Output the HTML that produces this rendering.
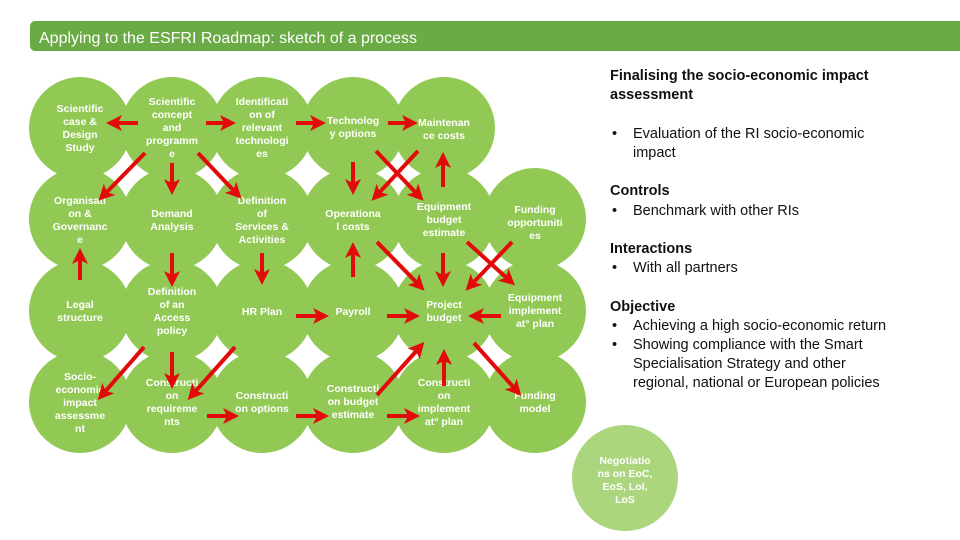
<!DOCTYPE html>
<html><head><meta charset="utf-8"><style>
body{margin:0;width:960px;height:540px;background:#fff;overflow:hidden;font-family:"Liberation Sans",Arial,sans-serif;}
</style></head><body>
<svg width="960" height="540" viewBox="0 0 960 540" xmlns="http://www.w3.org/2000/svg" style="position:absolute;left:0;top:0">
<defs>
<marker id="ah" markerWidth="4" markerHeight="4" refX="2" refY="2" orient="auto" markerUnits="strokeWidth">
<path d="M0,0 L4,2 L0,4 L1,2 z" fill="#e20a0a"/>
</marker>
</defs>
<rect x="30" y="21" width="940" height="30" rx="5" fill="#6aab45"/>
<text x="39" y="43" font-size="16" fill="#fff" font-family="Liberation Sans, sans-serif">Applying to the ESFRI Roadmap: sketch of a process</text>
<g fill="#92c955">
<circle cx="80" cy="128" r="51"/><circle cx="172" cy="128" r="51"/><circle cx="262" cy="128" r="51"/><circle cx="353" cy="128" r="51"/><circle cx="444" cy="128" r="51"/>
<circle cx="80" cy="219" r="51"/><circle cx="172" cy="219" r="51"/><circle cx="262" cy="219" r="51"/><circle cx="353" cy="219" r="51"/><circle cx="444" cy="219" r="51"/><circle cx="535" cy="219" r="51"/>
<circle cx="80" cy="311" r="51"/><circle cx="172" cy="311" r="51"/><circle cx="262" cy="311" r="51"/><circle cx="353" cy="311" r="51"/><circle cx="444" cy="311" r="51"/><circle cx="535" cy="311" r="51"/>
<circle cx="80" cy="402" r="51"/><circle cx="172" cy="402" r="51"/><circle cx="262" cy="402" r="51"/><circle cx="353" cy="402" r="51"/><circle cx="444" cy="402" r="51"/><circle cx="535" cy="402" r="51"/>
</g>
<circle cx="625" cy="478" r="53" fill="#acd67e"/>
<g fill="#fff" font-size="10.5" font-weight="bold" text-anchor="middle" font-family="Liberation Sans, sans-serif">
<text x="80" y="112">Scientific</text><text x="80" y="125">case &amp;</text><text x="80" y="138">Design</text><text x="80" y="151">Study</text>
<text x="172" y="105">Scientific</text><text x="172" y="118">concept</text><text x="172" y="131">and</text><text x="172" y="144">programm</text><text x="172" y="157">e</text>
<text x="262" y="105">Identificati</text><text x="262" y="118">on of</text><text x="262" y="131">relevant</text><text x="262" y="144">technologi</text><text x="262" y="157">es</text>
<text x="353" y="124">Technolog</text><text x="353" y="137">y options</text>
<text x="444" y="126">Maintenan</text><text x="444" y="139">ce costs</text>
<text x="80" y="204">Organisati</text><text x="80" y="217">on &amp;</text><text x="80" y="230">Governanc</text><text x="80" y="243">e</text>
<text x="172" y="217">Demand</text><text x="172" y="230">Analysis</text>
<text x="262" y="204">Definition</text><text x="262" y="217">of</text><text x="262" y="230">Services &amp;</text><text x="262" y="243">Activities</text>
<text x="353" y="217">Operationa</text><text x="353" y="230">l costs</text>
<text x="444" y="210">Equipment</text><text x="444" y="223">budget</text><text x="444" y="236">estimate</text>
<text x="535" y="213">Funding</text><text x="535" y="226">opportuniti</text><text x="535" y="239">es</text>
<text x="80" y="308">Legal</text><text x="80" y="321">structure</text>
<text x="172" y="295">Definition</text><text x="172" y="308">of an</text><text x="172" y="321">Access</text><text x="172" y="334">policy</text>
<text x="262" y="315">HR Plan</text>
<text x="353" y="315">Payroll</text>
<text x="444" y="308">Project</text><text x="444" y="321">budget</text>
<text x="535" y="301">Equipment</text><text x="535" y="314">implement</text><text x="535" y="327">at° plan</text>
<text x="80" y="380">Socio-</text><text x="80" y="393">economic</text><text x="80" y="406">impact</text><text x="80" y="419">assessme</text><text x="80" y="432">nt</text>
<text x="172" y="386">Constructi</text><text x="172" y="399">on</text><text x="172" y="412">requireme</text><text x="172" y="425">nts</text>
<text x="262" y="399">Constructi</text><text x="262" y="412">on options</text>
<text x="353" y="392">Constructi</text><text x="353" y="405">on budget</text><text x="353" y="418">estimate</text>
<text x="444" y="386">Constructi</text><text x="444" y="399">on</text><text x="444" y="412">implement</text><text x="444" y="425">at° plan</text>
<text x="535" y="399">Funding</text><text x="535" y="412">model</text>
<text x="625" y="464">Negotiatio</text><text x="625" y="477">ns on EoC,</text><text x="625" y="490">EoS, LoI,</text><text x="625" y="503">LoS</text>
</g>
<g stroke="#e20a0a" stroke-width="4" marker-end="url(#ah)" fill="none">
<line x1="138" y1="123" x2="114" y2="123"/>
<line x1="206" y1="123" x2="228" y2="123"/>
<line x1="296" y1="123" x2="318" y2="123"/>
<line x1="388" y1="123" x2="410" y2="123"/>
<line x1="145" y1="153" x2="104" y2="195"/>
<line x1="172" y1="163" x2="172" y2="187"/>
<line x1="198" y1="153" x2="236" y2="193"/>
<line x1="262" y1="253" x2="262" y2="277"/>
<line x1="80" y1="280" x2="80" y2="256"/>
<line x1="172" y1="253" x2="172" y2="279"/>
<line x1="353" y1="162" x2="353" y2="187"/>
<line x1="376" y1="151" x2="418" y2="195"/>
<line x1="418" y1="151" x2="377" y2="195"/>
<line x1="443" y1="187" x2="443" y2="160"/>
<line x1="353" y1="277" x2="353" y2="250"/>
<line x1="377" y1="242" x2="419" y2="285"/>
<line x1="443" y1="253" x2="443" y2="279"/>
<line x1="467" y1="242" x2="509" y2="280"/>
<line x1="512" y1="242" x2="471" y2="285"/>
<line x1="296" y1="316" x2="321" y2="316"/>
<line x1="387" y1="316" x2="412" y2="316"/>
<line x1="501" y1="316" x2="476" y2="316"/>
<line x1="144" y1="347" x2="103" y2="394"/>
<line x1="172" y1="352" x2="172" y2="381"/>
<line x1="235" y1="347" x2="193" y2="394"/>
<line x1="377" y1="395" x2="419" y2="348"/>
<line x1="444" y1="386" x2="444" y2="357"/>
<line x1="474" y1="343" x2="516" y2="390"/>
<line x1="207" y1="416" x2="231" y2="416"/>
<line x1="296" y1="416" x2="321" y2="416"/>
<line x1="387" y1="416" x2="412" y2="416"/>
</g>
<g font-family="Liberation Sans, sans-serif" font-size="14.5" fill="#111">
<text x="610" y="80" font-weight="bold">Finalising the socio-economic impact</text>
<text x="610" y="99" font-weight="bold">assessment</text>
<text x="612" y="138">•</text><text x="633" y="138">Evaluation of the RI socio-economic</text>
<text x="633" y="157">impact</text>
<text x="610" y="195" font-weight="bold">Controls</text>
<text x="612" y="215">•</text><text x="633" y="215">Benchmark with other RIs</text>
<text x="610" y="253" font-weight="bold">Interactions</text>
<text x="612" y="272">•</text><text x="633" y="272">With all partners</text>
<text x="610" y="311" font-weight="bold">Objective</text>
<text x="612" y="330">•</text><text x="633" y="330">Achieving a high socio-economic return</text>
<text x="612" y="349">•</text><text x="633" y="349">Showing compliance with the Smart</text>
<text x="633" y="368">Specialisation Strategy and other</text>
<text x="633" y="387">regional, national or European policies</text>
</g>
</svg>
</body></html>
